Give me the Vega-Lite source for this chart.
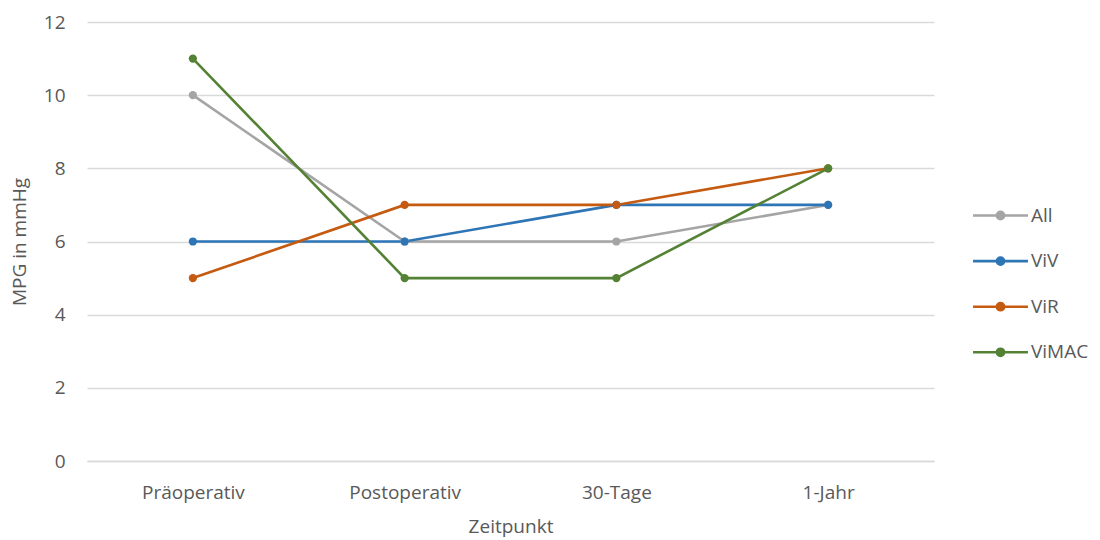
{
  "$schema": "https://vega.github.io/schema/vega-lite/v6.json",
  "autosize": {"type": "none"},
  "width": 847,
  "height": 439,
  "padding": {"left": 87, "top": 22, "right": 166, "bottom": 79},
  "background": "white",
  "data": {
    "values": [
      {"Zeitpunkt": "Präoperativ", "Gruppe": "All", "MPG": 10},
      {"Zeitpunkt": "Postoperativ", "Gruppe": "All", "MPG": 6},
      {"Zeitpunkt": "30-Tage", "Gruppe": "All", "MPG": 6},
      {"Zeitpunkt": "1-Jahr", "Gruppe": "All", "MPG": 7},
      {"Zeitpunkt": "Präoperativ", "Gruppe": "ViV", "MPG": 6},
      {"Zeitpunkt": "Postoperativ", "Gruppe": "ViV", "MPG": 6},
      {"Zeitpunkt": "30-Tage", "Gruppe": "ViV", "MPG": 7},
      {"Zeitpunkt": "1-Jahr", "Gruppe": "ViV", "MPG": 7},
      {"Zeitpunkt": "Präoperativ", "Gruppe": "ViR", "MPG": 5},
      {"Zeitpunkt": "Postoperativ", "Gruppe": "ViR", "MPG": 7},
      {"Zeitpunkt": "30-Tage", "Gruppe": "ViR", "MPG": 7},
      {"Zeitpunkt": "1-Jahr", "Gruppe": "ViR", "MPG": 8},
      {"Zeitpunkt": "Präoperativ", "Gruppe": "ViMAC", "MPG": 11},
      {"Zeitpunkt": "Postoperativ", "Gruppe": "ViMAC", "MPG": 5},
      {"Zeitpunkt": "30-Tage", "Gruppe": "ViMAC", "MPG": 5},
      {"Zeitpunkt": "1-Jahr", "Gruppe": "ViMAC", "MPG": 8}
    ]
  },
  "mark": {
    "type": "line",
    "strokeWidth": 2.6,
    "point": {"filled": true, "size": 68}
  },
  "encoding": {
    "x": {
      "field": "Zeitpunkt",
      "type": "ordinal",
      "sort": ["Präoperativ", "Postoperativ", "30-Tage", "1-Jahr"],
      "scale": {"type": "point", "padding": 0.5},
      "axis": {
        "title": "Zeitpunkt",
        "labelAngle": 0,
        "labelPadding": 22,
        "ticks": false,
        "domainColor": "#D9D9D9",
        "domainWidth": 1.5,
        "titlePadding": 15,
        "grid": false
      }
    },
    "y": {
      "field": "MPG",
      "type": "quantitative",
      "scale": {"domain": [0, 12], "nice": false, "zero": true},
      "axis": {
        "title": "MPG in mmHg",
        "values": [0, 2, 4, 6, 8, 10, 12],
        "ticks": false,
        "domain": false,
        "labelPadding": 22,
        "titlePadding": 14,
        "gridColor": "#D9D9D9",
        "gridWidth": 1.3
      }
    },
    "color": {
      "field": "Gruppe",
      "type": "nominal",
      "sort": ["All", "ViV", "ViR", "ViMAC"],
      "scale": {
        "domain": ["All", "ViV", "ViR", "ViMAC"],
        "range": ["#A5A5A5", "#2E75B6", "#C55A11", "#548235"]
      },
      "legend": {
        "title": null,
        "orient": "none",
        "legendX": 903,
        "legendY": 183,
        "padding": 0,
        "rowPadding": 24.6,
        "symbolSize": 324,
        "symbolType": "M-3.05,0H3.05M0.4,0A0.4,0.4 0 1,1 -0.4,0A0.4,0.4 0 1,1 0.4,0Z",
        "symbolStrokeWidth": 2.6,
        "labelOffset": 20,
        "labelFontSize": 19,
        "labelColor": "#595959",
        "labelFont": "Open Sans",
        "encode": {
          "symbols": {
            "update": {
              "fill": {"scale": "color", "field": "value"}
            }
          }
        }
      }
    }
  },
  "config": {
    "view": {"stroke": null},
    "axis": {
      "labelFont": "Open Sans",
      "titleFont": "Open Sans",
      "labelFontSize": 19,
      "titleFontSize": 19,
      "labelColor": "#595959",
      "titleColor": "#595959",
      "titleFontWeight": "normal"
    }
  }
}
